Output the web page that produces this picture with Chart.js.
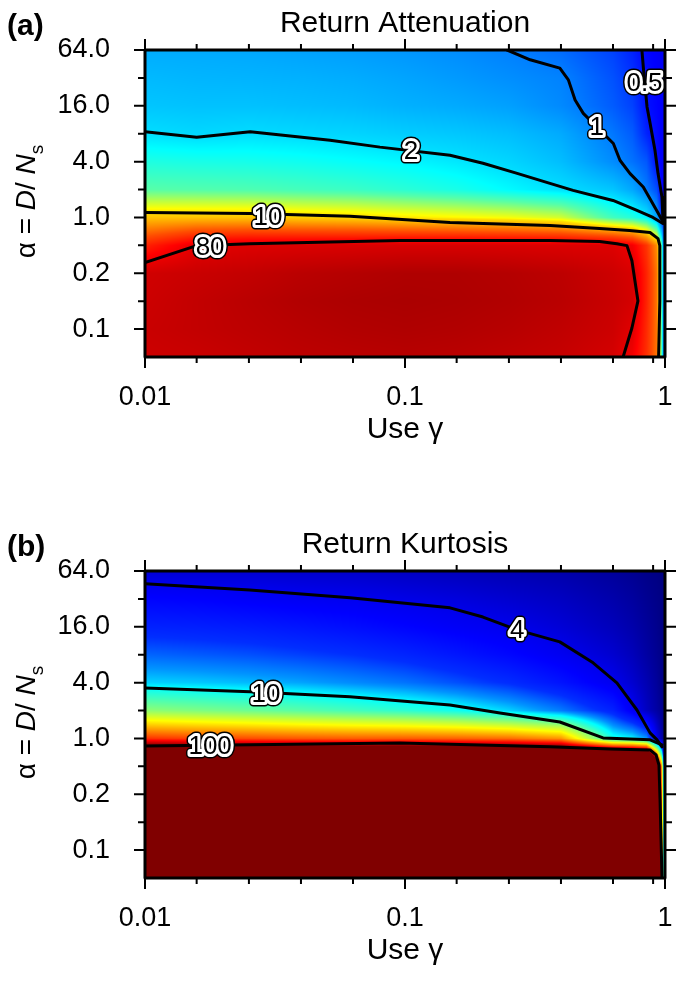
<!DOCTYPE html>
<html>
<head>
<meta charset="utf-8">
<title>Return Attenuation / Return Kurtosis</title>
<script src="https://cdn.jsdelivr.net/npm/chart.js@4.4.1/dist/chart.umd.min.js"></script>
<style>
  body { margin: 0; background: #fff; width: 685px; height: 988px; overflow: hidden; position: relative; }
  canvas { position: absolute; left: 0; }
  #chartA { top: 0; }
  #chartB { top: 521px; }
</style>
</head>
<body>
<canvas id="chartA" width="685" height="467"></canvas>
<canvas id="chartB" width="685" height="467"></canvas>
<script>
const FONT = '"Liberation Sans", Arial, Helvetica, sans-serif';

// grid columns (use γ) and rows (position on the α axis, 0 = bottom row, 11 = α 64)
const useGamma = [0.01, 0.0158, 0.0251, 0.0398, 0.0631, 0.1, 0.158, 0.251, 0.398, 0.631, 0.75, 0.85, 0.93, 0.97, 1.0];
const alphaRow = [0, 1, 2, 3, 4, 5, 6, 7, 8, 9, 10, 11];

// axis ticks
const xMajorTicks = [0.01, 0.1, 1];
const xTickLabels = ['0.01', '0.1', '1'];
const xMinorTicks = [0.0158, 0.0251, 0.0398, 0.0631, 0.158, 0.251, 0.398, 0.631, 0.9];
const yMajorTicks = [1, 3, 5, 7, 9, 11];
const yTickLabels = ['0.1', '0.2', '1.0', '4.0', '16.0', '64.0'];
const yMinorTicks = [2, 4, 6, 8, 10];

// (a) return attenuation, one row per alphaRow (bottom first)
const attenuation = [
  [110, 115, 125, 135, 140, 145, 140, 130, 120, 100, 70, 40, 22, 4, 0.4],
  [115, 125, 135, 145, 155, 160, 155, 145, 130, 110, 85, 42, 22, 4, 0.4],
  [110, 125, 140, 155, 165, 170, 165, 155, 140, 115, 100, 45, 22, 4, 0.4],
  [105, 115, 125, 140, 150, 160, 160, 150, 135, 110, 95, 45, 22, 4, 0.4],
  [45, 80, 88, 90, 92, 95, 95, 93, 90, 88, 70, 38, 18, 4, 0.4],
  [12, 12, 12, 11, 10.5, 9.5, 8.8, 8.1, 6.9, 3.5, 3, 2.3, 1.3, 0.6, 0.4],
  [4.0, 3.9, 3.8, 3.6, 3.4, 3.1, 2.8, 2.4, 2.05, 1.7, 1.35, 0.97, 0.73, 0.45, 0.4],
  [2.9, 2.8, 2.75, 2.65, 2.5, 2.35, 2.15, 1.92, 1.6, 1.1, 0.92, 0.78, 0.49, 0.42, 0.4],
  [2.05, 1.95, 2.02, 1.96, 1.9, 1.8, 1.72, 1.6, 1.38, 0.95, 0.8, 0.56, 0.47, 0.42, 0.4],
  [1.7, 1.65, 1.65, 1.6, 1.55, 1.45, 1.38, 1.28, 1.08, 0.8, 0.68, 0.5, 0.45, 0.42, 0.4],
  [1.55, 1.5, 1.48, 1.45, 1.4, 1.32, 1.22, 1.12, 1.02, 0.75, 0.62, 0.49, 0.44, 0.42, 0.4],
  [1.4, 1.38, 1.35, 1.3, 1.25, 1.18, 1.1, 1.0, 0.88, 0.68, 0.56, 0.46, 0.42, 0.4, 0.38]
];

// (b) return kurtosis (values above 100 are saturated in the picture)
const kurtosis = [
  [800, 800, 800, 800, 800, 800, 800, 800, 1000, 3000, 3000, 3000, 300, 90, 3],
  [800, 800, 800, 800, 800, 800, 800, 800, 1000, 3000, 3000, 3000, 300, 70, 3],
  [800, 800, 800, 800, 800, 800, 800, 800, 1000, 3000, 3000, 3000, 300, 60, 3],
  [800, 800, 800, 800, 800, 800, 800, 800, 1000, 3000, 3000, 3000, 300, 50, 3],
  [600, 600, 600, 650, 650, 700, 700, 800, 1000, 3000, 3000, 3000, 250, 40, 3],
  [55, 52, 50, 48, 47, 47, 46, 44, 38, 11, 10, 8, 4, 3, 2.5],
  [17, 16, 15, 14, 13, 12, 10.8, 9.2, 7.5, 5.5, 4.1, 3.3, 2.9, 2.7, 2.5],
  [9.2, 9.0, 8.7, 8.3, 7.8, 7.3, 6.6, 5.9, 5.0, 4.0, 3.5, 3.1, 2.8, 2.6, 2.5],
  [7.0, 6.8, 6.6, 6.3, 6.0, 5.6, 5.1, 4.6, 4.05, 3.5, 3.2, 2.9, 2.7, 2.6, 2.5],
  [5.5, 5.4, 5.25, 5.05, 4.8, 4.5, 4.2, 3.95, 3.6, 3.2, 3.0, 2.8, 2.65, 2.55, 2.5],
  [4.5, 4.4, 4.25, 4.1, 4.0, 3.85, 3.7, 3.5, 3.3, 3.0, 2.85, 2.7, 2.6, 2.55, 2.5],
  [3.6, 3.55, 3.5, 3.45, 3.4, 3.3, 3.2, 3.1, 3.0, 2.8, 2.7, 2.6, 2.55, 2.5, 2.5]
];

// contour lines, [use γ, α row]
const attenC05 = [[0.815, 11], [0.827, 10.29], [0.853, 8.96], [0.876, 8.38], [0.915, 7.41], [0.94, 6.58], [0.974, 5.72], [0.982, 4.89]];
const attenC1 = [[0.247, 11], [0.303, 10.65], [0.394, 10.35], [0.425, 9.93], [0.451, 9.21], [0.485, 8.73], [0.546, 8.25], [0.633, 7.65], [0.671, 7.05], [0.734, 6.57], [0.825, 6.09], [0.929, 5.25], [0.985, 4.83]];
const attenC2 = [[0.01, 8.07], [0.0158, 7.87], [0.0254, 8.07], [0.0515, 7.77], [0.0801, 7.52], [0.149, 7.23], [0.1995, 6.94], [0.27, 6.58], [0.361, 6.22], [0.443, 5.97], [0.631, 5.61], [0.78, 5.25], [0.899, 5.0], [0.982, 4.78]];
const attenC10 = [[0.01, 5.18], [0.0253, 5.14], [0.0615, 5.04], [0.149, 4.82], [0.361, 4.71], [0.56, 4.6], [0.73, 4.53], [0.876, 4.46], [0.94, 4.24], [0.955, 3.99], [0.955, 2.01], [0.945, 0]];
const attenC80 = [[0.01, 3.38], [0.0158, 3.99], [0.0253, 4.06], [0.0956, 4.17], [0.361, 4.17], [0.56, 4.14], [0.653, 4.06], [0.714, 3.99], [0.746, 3.45], [0.787, 2.01], [0.746, 1.04], [0.69, 0]];

const kurtC4 = [[0.01, 10.54], [0.0253, 10.32], [0.0615, 10.04], [0.149, 9.68], [0.1995, 9.35], [0.27, 8.89], [0.394, 8.46], [0.529, 7.71], [0.653, 6.99], [0.78, 6.02], [0.876, 5.2], [0.932, 4.95], [0.974, 4.7]];
const kurtC10 = [[0.01, 6.81], [0.0254, 6.67], [0.0614, 6.49], [0.149, 6.2], [0.232, 5.91], [0.394, 5.59], [0.578, 5.02], [0.876, 4.95], [0.974, 4.77]];
const kurtC100 = [[0.01, 4.73], [0.0957, 4.84], [0.361, 4.7], [0.615, 4.62], [0.876, 4.59], [0.924, 4.41], [0.948, 4.05], [0.957, 2.8], [0.974, 0]];

// contour labels, [text, use γ, α row]
const attenLabels = [['0.5', 0.834, 9.82], ['1', 0.546, 8.25], ['2', 0.1054, 7.37], ['10', 0.0297, 5.04], ['80', 0.0178, 3.93]];
const kurtLabels = [['4', 0.27, 8.89], ['10', 0.0292, 6.59], ['100', 0.0178, 4.73]];

// colour level (0..1 on a jet map) for given values
const attenStops = [[0.3, 0.08], [0.5, 0.14], [1, 0.25], [2, 0.34], [4, 0.46], [10, 0.66], [30, 0.8], [80, 0.9], [200, 0.97]];
const kurtStops = [[2.5, 0.0], [4, 0.11], [6, 0.17], [8, 0.27], [10, 0.37], [20, 0.56], [50, 0.8], [100, 1.0]];

function jet(t) {
  const c = v => Math.round(255 * Math.min(1, Math.max(0, v)));
  return [c(1.5 - Math.abs(4 * t - 3)), c(1.5 - Math.abs(4 * t - 2)), c(1.5 - Math.abs(4 * t - 1))];
}

function levelOf(logv, stops) {
  if (logv <= Math.log10(stops[0][0])) return stops[0][1];
  for (let k = 1; k < stops.length; k++) {
    const l1 = Math.log10(stops[k][0]);
    if (logv <= l1) {
      const l0 = Math.log10(stops[k - 1][0]);
      return stops[k - 1][1] + (logv - l0) / (l1 - l0) * (stops[k][1] - stops[k - 1][1]);
    }
  }
  return stops[stops.length - 1][1];
}

function bracket(arr, v) {
  let j = 0;
  while (j < arr.length - 2 && v > arr[j + 1]) j++;
  const f = Math.min(1, Math.max(0, (v - arr[j]) / (arr[j + 1] - arr[j])));
  return [j, f];
}

// smooth shaded grid under the contours
const heatmapPlugin = {
  id: 'heatmap',
  beforeDatasetsDraw(chart, args, opts) {
    const { ctx, chartArea: a, scales: { x, y } } = chart;
    const w = Math.round(a.right - a.left), h = Math.round(a.bottom - a.top);
    const lgCols = useGamma.map(Math.log10);
    const grid = opts.values.map(row => row.map(Math.log10));
    const cols = [];
    for (let px = 0; px < w; px++) {
      cols.push(bracket(lgCols, Math.log10(x.getValueForPixel(a.left + px + 0.5))));
    }
    const img = ctx.createImageData(w, h);
    for (let py = 0; py < h; py++) {
      const [r, fy] = bracket(alphaRow, y.getValueForPixel(a.top + py + 0.5));
      for (let px = 0; px < w; px++) {
        const [j, fx] = cols[px];
        const v0 = grid[r][j] * (1 - fx) + grid[r][j + 1] * fx;
        const v1 = grid[r + 1][j] * (1 - fx) + grid[r + 1][j + 1] * fx;
        const rgb = jet(levelOf(v0 * (1 - fy) + v1 * fy, opts.stops));
        const o = (py * w + px) * 4;
        img.data[o] = rgb[0]; img.data[o + 1] = rgb[1]; img.data[o + 2] = rgb[2]; img.data[o + 3] = 255;
      }
    }
    const off = document.createElement('canvas');
    off.width = w; off.height = h;
    off.getContext('2d').putImageData(img, 0, 0);
    ctx.drawImage(off, a.left, a.top);
  }
};

// frame, ticks, titles and contour labels
const decorPlugin = {
  id: 'decor',
  afterDatasetsDraw(chart, args, opts) {
    const { ctx, chartArea: a, scales: { x, y } } = chart;
    ctx.save();

    ctx.font = '26px ' + FONT;
    ctx.textAlign = 'center';
    ctx.textBaseline = 'middle';
    ctx.lineJoin = 'round';
    opts.labels.forEach(l => {
      const px = x.getPixelForValue(l[1]), py = y.getPixelForValue(l[2]) + 1;
      ctx.lineWidth = 9; ctx.strokeStyle = '#000'; ctx.strokeText(l[0], px, py);
      ctx.lineWidth = 6; ctx.strokeStyle = '#fff'; ctx.strokeText(l[0], px, py);
      ctx.fillStyle = '#000'; ctx.fillText(l[0], px, py);
    });

    ctx.strokeStyle = '#000';
    ctx.lineWidth = 3;
    ctx.strokeRect(a.left, a.top, a.right - a.left, a.bottom - a.top);

    ctx.lineWidth = 2;
    ctx.beginPath();
    const tickX = (v, len) => {
      const p = x.getPixelForValue(v);
      ctx.moveTo(p, a.bottom); ctx.lineTo(p, a.bottom + len);
      ctx.moveTo(p, a.top); ctx.lineTo(p, a.top - len);
    };
    const tickY = (v, len) => {
      const p = y.getPixelForValue(v);
      ctx.moveTo(a.left, p); ctx.lineTo(a.left - len, p);
      ctx.moveTo(a.right, p); ctx.lineTo(a.right + len, p);
    };
    xMajorTicks.forEach(v => tickX(v, 11));
    xMinorTicks.forEach(v => tickX(v, 6));
    yMajorTicks.forEach(v => tickY(v, 11));
    yMinorTicks.forEach(v => tickY(v, 7));
    ctx.stroke();

    ctx.fillStyle = '#000';
    ctx.textBaseline = 'alphabetic';
    ctx.textAlign = 'center';
    ctx.font = '30px ' + FONT;
    ctx.fillText(opts.title, (a.left + a.right) / 2, 32);
    ctx.textBaseline = 'middle';
    ctx.fillText('Use γ', (a.left + a.right) / 2, a.bottom + 73);

    ctx.textAlign = 'left';
    ctx.textBaseline = 'alphabetic';
    ctx.font = 'bold 30px ' + FONT;
    ctx.fillText(opts.letter, 7, 35);

    // α = D/ Ns, rotated
    ctx.translate(35, (a.top + a.bottom) / 2 - 2);
    ctx.rotate(-Math.PI / 2);
    const parts = [
      ['α = ', '28px ' + FONT, 0],
      ['D', 'italic 28px ' + FONT, 0],
      ['/ ', '28px ' + FONT, 0],
      ['N', 'italic 28px ' + FONT, 0],
      ['s', '19px ' + FONT, 8]
    ];
    let total = 0;
    parts.forEach(p => { ctx.font = p[1]; total += ctx.measureText(p[0]).width; });
    let cx = -total / 2;
    parts.forEach(p => {
      ctx.font = p[1];
      ctx.fillText(p[0], cx, p[2]);
      cx += ctx.measureText(p[0]).width;
    });
    ctx.restore();
  }
};

function makeChart(id, cfg) {
  const datasets = cfg.contours.map(c => ({
    data: c.map(p => ({ x: p[0], y: p[1] })),
    showLine: true,
    borderColor: '#000',
    borderWidth: 3,
    pointRadius: 0,
    borderJoinStyle: 'round',
    borderCapStyle: 'round',
    tension: 0
  }));
  return new Chart(document.getElementById(id), {
    type: 'scatter',
    data: { datasets: datasets },
    options: {
      responsive: false,
      animation: false,
      events: [],
      layout: { padding: { top: 50, right: 20, left: 0, bottom: 0 } },
      plugins: {
        legend: { display: false },
        tooltip: { enabled: false },
        heatmap: { values: cfg.values, stops: cfg.stops },
        decor: { letter: cfg.letter, title: cfg.title, labels: cfg.labels }
      },
      scales: {
        x: {
          type: 'logarithmic', min: 0.01, max: 1, bounds: 'data',
          grid: { display: false }, border: { display: false },
          ticks: {
            font: { family: FONT, size: 27 }, color: '#000', padding: 16,
            maxRotation: 0, autoSkip: false,
            callback: (v, i) => xTickLabels[i]
          },
          afterBuildTicks: s => { s.ticks = xMajorTicks.map(v => ({ value: v })); },
          afterFit: s => { s.height = 110; s.paddingLeft = 0; s.paddingRight = 0; }
        },
        y: {
          type: 'linear', min: 0, max: 11, bounds: 'data',
          grid: { display: false }, border: { display: false },
          ticks: {
            font: { family: FONT, size: 27 }, color: '#000', padding: 27,
            autoSkip: false,
            callback: (v, i) => yTickLabels[i]
          },
          afterBuildTicks: s => { s.ticks = yMajorTicks.map(v => ({ value: v })); },
          afterFit: s => { s.width = 145; }
        }
      }
    },
    plugins: [heatmapPlugin, decorPlugin]
  });
}

makeChart('chartA', {
  letter: '(a)', title: 'Return Attenuation',
  values: attenuation, stops: attenStops,
  contours: [attenC05, attenC1, attenC2, attenC10, attenC80],
  labels: attenLabels
});

makeChart('chartB', {
  letter: '(b)', title: 'Return Kurtosis',
  values: kurtosis, stops: kurtStops,
  contours: [kurtC4, kurtC10, kurtC100],
  labels: kurtLabels
});
</script>
</body>
</html>
